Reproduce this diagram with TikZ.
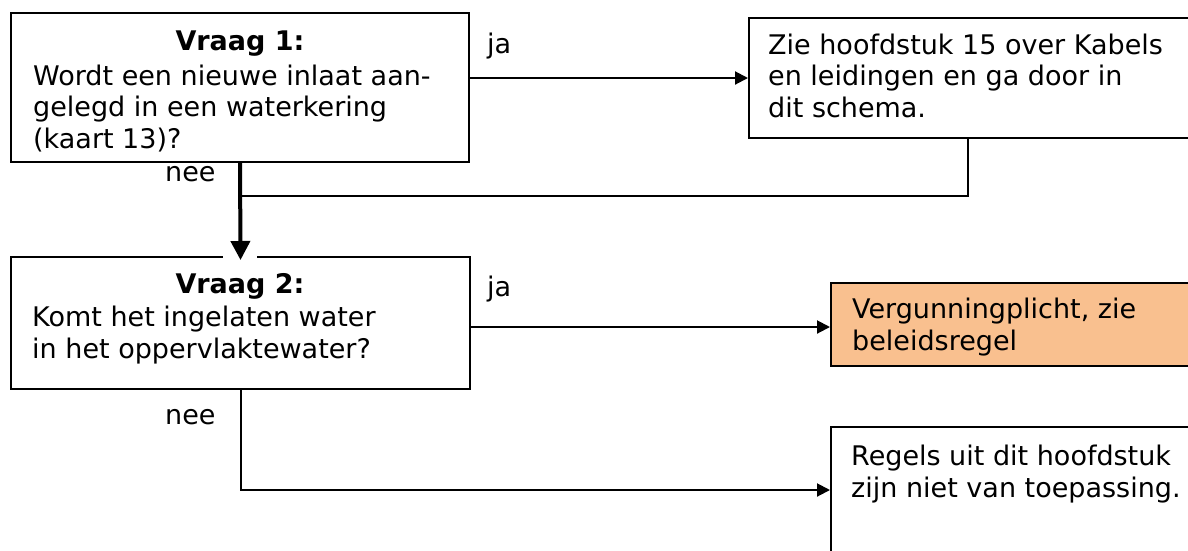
\documentclass[tikz,border=0pt]{standalone}
\usepackage{fontspec}
\setmainfont{DejaVu Sans}
\usetikzlibrary{arrows.meta,calc}
\definecolor{boxorange}{HTML}{F9C08F}
\tikzset{
  boxshape/.style={draw=black, line width=2pt, rectangle, inner sep=0pt, anchor=north west},
  txt/.style={anchor=base west, align=left, inner sep=0pt, font=\fontsize{27}{31.5}\selectfont},
  head/.style={anchor=base, inner sep=0pt, font=\fontsize{27}{31.5}\selectfont\bfseries},
  lbl/.style={anchor=base west, inner sep=0pt, font=\fontsize{27}{31.5}\selectfont},
  conn/.style={draw=black, line width=2pt},
  arr/.style={conn, -{Triangle[length=13pt,width=13pt]}},
  mainarr/.style={draw=black, line width=4pt, -{Triangle[length=19pt,width=19pt]}, shorten >=-4pt}
}
\begin{document}
\begin{tikzpicture}[x=1pt,y=-1pt]
\clip (0,0) rectangle (1188,550);
\useasboundingbox (0,0) rectangle (1188,550);
\fill[white] (0,0) rectangle (1188,550);

% boxes
\node[boxshape, minimum width=458pt, minimum height=149pt] (q1) at (10,12) {};
\node[boxshape, minimum width=460pt, minimum height=120pt] (z) at (748,17) {};
\node[boxshape, minimum width=459pt, minimum height=132pt] (q2) at (10,256) {};
\node[boxshape, fill=boxorange, minimum width=400pt, minimum height=83pt] (v) at (830,282) {};
\node[boxshape, minimum width=400pt, minimum height=150pt] (r) at (830,426) {};

% texts (anchor = baseline of the last line)
\node[head] (q1h) at (240,50) {Vraag 1:};
\node[txt] (q1t) at (33,148) {Wordt een nieuwe inlaat aan-\\gelegd in een waterkering\\(kaart 13)?};
\node[txt] (zt) at (768,117) {Zie hoofdstuk 15 over Kabels\\en leidingen en ga door in\\dit schema.};
\node[head] (q2h) at (240,293) {Vraag 2:};
\node[txt] (q2t) at (32,358) {Komt het ingelaten water\\in het oppervlaktewater?};
\begin{scope}
\clip (830,282) rectangle (1200,356);
\node[txt] (vt) at (852,350) {Vergunningplicht, zie\\beleidsregel};
\end{scope}
\node[txt] (rt) at (851,497) {Regels uit dit hoofdstuk\\zijn niet van toepassing.};

% labels
\node[lbl] (ja1) at (487,53) {ja};
\node[lbl] (nee1) at (165,181) {nee};
\node[lbl] (ja2) at (487,296) {ja};
\node[lbl] (nee2) at (165,424) {nee};

% connectors
\coordinate (j) at (240,196);
\coordinate (zb) at (968,137);
\coordinate (rin) at (830,490);
\draw[arr] (q1.east |- 0,78) -- (z.west |- 0,78);
\draw[conn] (zb) |- (j);
\draw[white, line width=3pt] (223,256) -- (257,256);
\draw[mainarr] (q1.south) -- (q2.north);
\draw[arr] (q2.east |- 0,327) -- (v.west |- 0,327);
\draw[arr] (q2.south) |- (rin);
\end{tikzpicture}
\end{document}
